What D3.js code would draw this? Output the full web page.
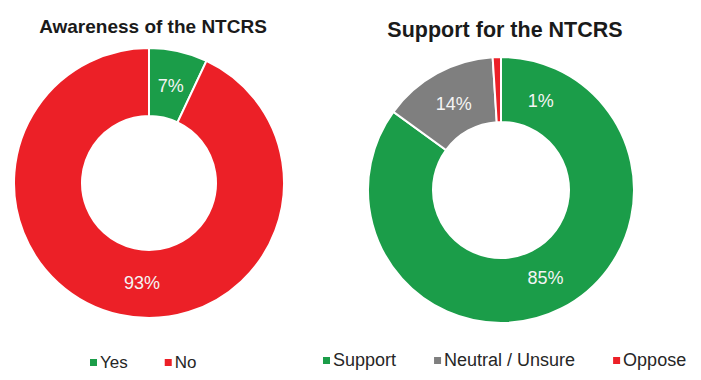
<!DOCTYPE html>
<html>
<head>
    <meta charset="utf-8" />
    <title>NTCRS donuts</title>
    <script src="https://cdn.jsdelivr.net/npm/d3@7"></script>
    <style>
        body { margin: 0; background: #fff; }
        text { font-family: "Liberation Sans", Arial, sans-serif; }
    </style>
</head>
<body>
    <script>

        // awareness chart
        let awareCategories = ['Yes', 'No']
        let awareValues = [7, 93]

        // support chart
        let supportCategories = ['Support', 'Neutral / Unsure', 'Oppose']
        let supportValues = [85, 14, 1]

        let colors = {
            'Yes': '#1b9d49', 'No': '#ec2027',
            'Support': '#1b9d49', 'Neutral / Unsure': '#7f7f7f', 'Oppose': '#ec2027'
        }

        let width = 701, height = 380

        let svg = d3.select('body')
                    .append('svg')
                    .attr('width', width)
                    .attr('height', height)

        function donut(opts) {
            let g = svg.append('g')
                        .attr('transform', `translate(${opts.cx}, ${opts.cy})`)

            let data = opts.categories.map(function (c, i) {
                return { name: c, value: opts.values[i] }
            })

            let pie = d3.pie().sort(null).value(function (d) { return d.value })
            let arc = d3.arc().innerRadius(opts.inner).outerRadius(opts.outer)

            let arcs = pie(data)

            g.selectAll('path.slice')
                .data(arcs)
                .enter()
                .append('path')
                .classed('slice', true)
                .attr('d', arc)
                .style('fill', function (d) { return colors[d.data.name] })
                .style('stroke', '#fff')
                .style('stroke-width', 2)

            // labels sit mid-ring; a couple are nudged like the original
            g.selectAll('text.label')
                .data(arcs)
                .enter()
                .append('text')
                .classed('label', true)
                .attr('transform', function (d) {
                    let a = (d.startAngle + d.endAngle) / 2
                    if (opts.labelAngle && opts.labelAngle[d.data.name] !== undefined) {
                        a = opts.labelAngle[d.data.name] * Math.PI / 180
                    }
                    let x = Math.sin(a) * opts.labelR, y = -Math.cos(a) * opts.labelR
                    return `translate(${x}, ${y})`
                })
                .attr('text-anchor', 'middle')
                .attr('dy', '0.35em')
                .style('font-size', '18px')
                .style('fill', '#f4f4f4')
                .text(function (d) { return d.data.value + '%' })

            svg.append('text')
                .attr('x', opts.cx + opts.titleDx)
                .attr('y', opts.titleY)
                .attr('text-anchor', 'middle')
                .style('font-size', opts.titleSize)
                .style('font-weight', 'bold')
                .style('fill', '#1a1a1a')
                .text(opts.title)

            // legend
            let lx = opts.legendX
            let leg = svg.append('g')
            opts.categories.forEach(function (c) {
                leg.append('rect')
                    .attr('x', lx)
                    .attr('y', opts.legendY - 9)
                    .attr('width', 7)
                    .attr('height', 7)
                    .style('fill', colors[c])
                let t = leg.append('text')
                    .attr('x', lx + 10)
                    .attr('y', opts.legendY)
                    .style('font-size', opts.legendSize)
                    .style('fill', '#262626')
                    .text(c)
                lx = lx + 10 + t.node().getComputedTextLength() + opts.legendGap
            })
        }

        donut({
            categories: awareCategories, values: awareValues,
            cx: 149, cy: 183, outer: 135, inner: 67, labelR: 100,
            labelAngle: { 'No': 184 },
            title: 'Awareness of the NTCRS', titleDx: 4, titleY: 33, titleSize: '19px',
            legendX: 90, legendY: 368, legendSize: '17px', legendGap: 37
        })

        donut({
            categories: supportCategories, values: supportValues,
            cx: 501, cy: 190, outer: 133, inner: 68, labelR: 98,
            labelAngle: { 'Oppose': 24 },
            title: 'Support for the NTCRS', titleDx: 4, titleY: 37, titleSize: '21.5px',
            legendX: 323, legendY: 366, legendSize: '18px', legendGap: 38
        })

    </script>
</body>
</html>
